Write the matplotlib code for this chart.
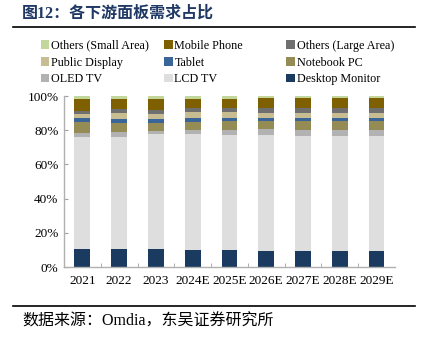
import numpy as np
import matplotlib
matplotlib.use("Agg")
import matplotlib.pyplot as plt
from matplotlib.patches import Patch
from matplotlib.lines import Line2D
from matplotlib.ticker import FuncFormatter, FixedLocator

plt.rcParams['font.family'] = ['Liberation Serif', 'Noto Sans CJK SC']

years = ["2021", "2022", "2023", "2024E", "2025E", "2026E", "2027E", "2028E", "2029E"]

# shares in %, bottom to top of the stack
desktop = [10.7, 10.4, 10.4, 9.9, 9.9, 9.5, 9.5, 9.4, 9.4]
lcd_tv = [65.1, 65.7, 67.3, 67.8, 67.4, 67.7, 67.3, 67.3, 67.1]
oled_tv = [2.7, 2.9, 2.1, 2.7, 3.1, 3.3, 3.3, 3.5, 3.7]
notebook = [6.3, 5.3, 4.7, 4.7, 4.9, 4.9, 5.1, 5.1, 5.1]
tablet = [2.5, 2.3, 2.0, 1.9, 1.9, 1.9, 1.9, 1.9, 1.9]
public = [2.2, 3.5, 3.1, 3.5, 3.3, 2.9, 2.9, 2.9, 2.9]
others_large = [1.8, 2.3, 2.3, 2.5, 2.7, 2.9, 3.1, 3.1, 3.1]
mobile = [7.0, 5.8, 6.4, 5.5, 5.3, 5.5, 5.5, 5.5, 5.5]
others_small = [1.8, 1.8, 1.8, 1.4, 1.4, 1.4, 1.4, 1.4, 1.4]

series = [
    ("Desktop Monitor", desktop, "#1b3a60"),
    ("LCD TV", lcd_tv, "#dedede"),
    ("OLED TV", oled_tv, "#b2b2b2"),
    ("Notebook PC", notebook, "#958b55"),
    ("Tablet", tablet, "#3a6599"),
    ("Public Display", public, "#c8bd92"),
    ("Others (Large Area)", others_large, "#6f6f6f"),
    ("Mobile Phone", mobile, "#7f6000"),
    ("Others (Small Area)", others_small, "#c3d69b"),
]

fig = plt.figure(figsize=(4.21, 3.37), dpi=100)
ax = fig.add_axes([0.152, 0.2077, 0.786, 0.5073])

x = np.arange(len(years))
bottom = np.zeros(len(years))
handles = {}
for name, vals, col in series:
    vals = np.array(vals)
    ax.bar(x, vals, 0.43, bottom=bottom, color=col, linewidth=0)
    bottom += vals
    handles[name] = Patch(facecolor=col, edgecolor='none')

ax.set_xlim(-0.5, 8.5)
ax.set_ylim(0, 100)
ax.set_yticks(np.arange(0, 101, 20))
ax.yaxis.set_major_formatter(FuncFormatter(lambda v, p: f"{int(v)}%"))
ax.set_xticks(x)
ax.set_xticklabels(years)
ax.xaxis.set_minor_locator(FixedLocator(np.arange(0.5, 8.5, 1)))
ax.tick_params(axis='x', which='major', length=0, labelsize=9.5, pad=6)
ax.tick_params(axis='x', which='minor', direction='in', length=3, color='#a0a0a0')
ax.tick_params(axis='y', direction='in', length=3, color='#a0a0a0', labelsize=9.5, pad=4)
for s in ['top', 'right']:
    ax.spines[s].set_visible(False)
for s in ['left', 'bottom']:
    ax.spines[s].set_color('#b0b0b0')
    ax.spines[s].set_linewidth(1.0)

# legend: three columns, row-major order as in the source
cols = [
    ["Others (Small Area)", "Public Display", "OLED TV"],
    ["Mobile Phone", "Tablet", "LCD TV"],
    ["Others (Large Area)", "Notebook PC", "Desktop Monitor"],
]
xs = [0.097, 0.39, 0.68]
for cx, names in zip(xs, cols):
    leg = fig.legend([handles[n] for n in names], names, loc='upper left',
                     bbox_to_anchor=(cx, 0.882), frameon=False, fontsize=8.7,
                     handlelength=0.7, handleheight=0.7, handletextpad=0.15,
                     labelspacing=0.4, borderpad=0, borderaxespad=0)

fig.text(0.052, 0.96, "图12：各下游面板需求占比", fontsize=11.5, fontweight='bold',
         color='#1f3864', va='center', ha='left')
fig.add_artist(Line2D([0.03, 0.985], [0.919, 0.919], color='black', linewidth=1.2))
fig.add_artist(Line2D([0.03, 0.985], [0.093, 0.093], color='black', linewidth=1.2))
fig.text(0.052, 0.045, "数据来源：Omdia，东吴证券研究所", fontsize=11.5,
         color='black', va='center', ha='left')

fig.savefig("out.png", dpi=100)
